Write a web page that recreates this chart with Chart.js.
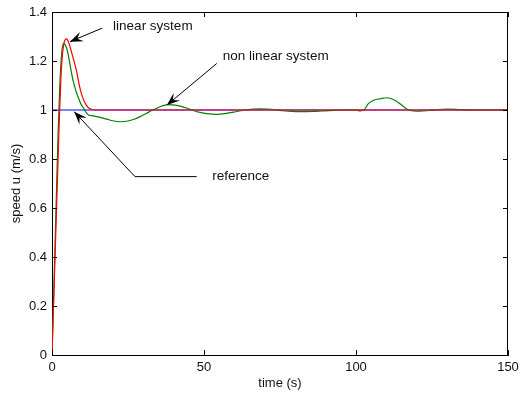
<!DOCTYPE html>
<html>
<head>
<meta charset="utf-8">
<script src="https://cdn.jsdelivr.net/npm/chart.js@4.4.1/dist/chart.umd.min.js"></script>
<style>
html,body{margin:0;padding:0;background:#fff;}
#wrap{width:520px;height:397px;}
</style>
</head>
<body>
<div id="wrap"><canvas id="c" width="520" height="397"></canvas></div>
<script>
// ---- data ----
const xTicks = [0, 50, 100, 150];
const yTicks = [0, 0.2, 0.4, 0.6, 0.8, 1, 1.2, 1.4];

const tRef = [0, 150];
const uRef = [1, 1];

const tLin = [0, 0.5, 1, 1.5, 2, 2.5, 3, 3.5, 4, 4.7, 5.3, 6, 7, 8, 9, 9.65, 10.5, 11.3, 12, 12.9, 14, 100, 101.3, 102.5, 150];
const uLin = [0, 0.2, 0.4, 0.6, 0.8, 0.99, 1.15, 1.235, 1.275, 1.29, 1.282, 1.255, 1.21, 1.163, 1.1, 1.068, 1.038, 1.02, 1.009, 1.003, 1.0, 1.0, 0.996, 1.0, 1.0];

const tNon = [0, 0.5, 1, 1.5, 2, 2.5, 3, 3.4, 3.9, 4.5, 5, 6, 6.9, 7.7, 8.55, 9.5, 10.5, 11.2, 12, 13.5, 15.8, 18, 20, 22.4, 25, 27, 29, 31, 33, 34.5, 36.5, 38.3, 40.5, 42.5, 44.3, 46.5, 48.7, 51, 54, 57, 59.6, 63, 66, 68.5, 71, 73, 76, 79, 82, 86, 89, 95.8, 101, 102.5, 104, 105.8, 108, 110.2, 112.3, 114, 115.5, 117.3, 119, 121, 124, 127, 130, 134, 138, 150];
const uNon = [0, 0.22, 0.45, 0.68, 0.9, 1.08, 1.2, 1.255, 1.272, 1.262, 1.245, 1.18, 1.122, 1.085, 1.054, 1.025, 1.005, 0.99, 0.98, 0.976, 0.97, 0.963, 0.956, 0.952, 0.955, 0.962, 0.973, 0.986, 0.999, 1.007, 1.018, 1.022, 1.02, 1.015, 1.008, 0.998, 0.99, 0.985, 0.982, 0.985, 0.991, 0.999, 1.004, 1.005, 1.004, 1.002, 0.997, 0.994, 0.993, 0.994, 0.996, 1.0, 1.0, 1.0, 1.025, 1.04, 1.046, 1.05, 1.043, 1.03, 1.015, 1.0, 0.996, 0.995, 0.998, 1.002, 1.004, 1.002, 1.0, 1.0];

const annotLabels = ["linear system", "non linear system", "reference"];
// annotation anchors in data units [t, u]
const labelPos = [[20.1, 1.343], [56.2, 1.2175], [52.7, 0.728]];
const arrowPaths = [
  [[16.5, 1.334], [5.9, 1.279]],
  [[54.2, 1.19], [37.8, 1.02]],
  [[47.6, 0.728], [27.3, 0.728], [7.3, 0.993]]
];

const zip = (t, u) => t.map((x, i) => ({x: x, y: u[i]}));

const FONT = "'Liberation Sans', Arial, Helvetica, sans-serif";
Chart.defaults.font.family = FONT;
Chart.defaults.font.size = 13;
Chart.defaults.color = '#111';

const framePlugin = {
  id: 'frame',
  afterDatasetsDraw(chart) {
    const {ctx, chartArea: a, scales: {x, y}} = chart;
    ctx.save();
    ctx.strokeStyle = '#000';
    ctx.lineWidth = 1;
    ctx.beginPath();
    ctx.moveTo(a.left, a.top + 0.5); ctx.lineTo(a.right, a.top + 0.5);
    ctx.moveTo(a.right - 0.5, a.top); ctx.lineTo(a.right - 0.5, a.bottom);
    const L = 5;
    xTicks.forEach(v => {
      const px = Math.round(x.getPixelForValue(v)) + 0.5;
      ctx.moveTo(px, a.bottom); ctx.lineTo(px, a.bottom - L);
      ctx.moveTo(px, a.top); ctx.lineTo(px, a.top + L);
    });
    yTicks.forEach(v => {
      const py = Math.round(y.getPixelForValue(v)) + 0.5;
      ctx.moveTo(a.left, py); ctx.lineTo(a.left + L, py);
      ctx.moveTo(a.right, py); ctx.lineTo(a.right - L, py);
    });
    ctx.stroke();

    // annotations
    ctx.font = '13.5px ' + FONT;
    ctx.fillStyle = '#111';
    ctx.textBaseline = 'middle';
    ctx.textAlign = 'left';
    annotLabels.forEach((s, i) => {
      ctx.fillText(s, x.getPixelForValue(labelPos[i][0]), y.getPixelForValue(labelPos[i][1]));
    });
    ctx.strokeStyle = '#000';
    ctx.fillStyle = '#000';
    arrowPaths.forEach(p => {
      const pts = p.map(q => [x.getPixelForValue(q[0]), y.getPixelForValue(q[1])]);
      ctx.beginPath();
      ctx.moveTo(pts[0][0], pts[0][1]);
      for (let i = 1; i < pts.length; i++) ctx.lineTo(pts[i][0], pts[i][1]);
      ctx.stroke();
      const [sx, sy] = pts[pts.length - 2];
      const [tx, ty] = pts[pts.length - 1];
      let dx = tx - sx, dy = ty - sy;
      const d = Math.hypot(dx, dy); dx /= d; dy /= d;
      const nx = -dy, ny = dx;
      const HL = 13, HW = 10;
      ctx.beginPath();
      ctx.moveTo(tx, ty);
      ctx.lineTo(tx - HL * dx + HW / 2 * nx, ty - HL * dy + HW / 2 * ny);
      ctx.lineTo(tx - 0.6 * HL * dx, ty - 0.6 * HL * dy);
      ctx.lineTo(tx - HL * dx - HW / 2 * nx, ty - HL * dy - HW / 2 * ny);
      ctx.closePath();
      ctx.fill();
    });
    ctx.restore();
  }
};

new Chart(document.getElementById('c'), {
  type: 'line',
  data: {
    datasets: [
      {label: 'linear system', data: zip(tLin, uLin), borderColor: '#ff0000', borderWidth: 1.2, pointRadius: 0, cubicInterpolationMode: 'monotone', fill: false},
      {label: 'non linear system', data: zip(tNon, uNon), borderColor: '#008000', borderWidth: 1.2, pointRadius: 0, cubicInterpolationMode: 'monotone', fill: false},
      {label: 'reference', data: zip(tRef, uRef), borderColor: '#0000ff', borderWidth: 1.2, pointRadius: 0, fill: false}
    ]
  },
  options: {
    responsive: false,
    animation: false,
    events: [],
    layout: {padding: {left: 0, right: 12, top: 12, bottom: 0}},
    plugins: {legend: {display: false}, tooltip: {enabled: false}},
    scales: {
      x: {
        type: 'linear', min: 0, max: 150,
        afterBuildTicks: s => { s.ticks = xTicks.map(v => ({value: v})); },
        afterFit: s => { s.height = 42; s.paddingLeft = 0; s.paddingRight = 0; },
        grid: {display: true, drawOnChartArea: false, drawTicks: false},
        border: {display: true, color: '#000', width: 1},
        ticks: {padding: 5, color: '#111', maxRotation: 0, autoSkip: false},
        title: {display: true, text: 'time (s)', color: '#111', padding: {top: 0, bottom: 6}}
      },
      y: {
        type: 'linear', min: 0, max: 1.4,
        afterBuildTicks: s => { s.ticks = yTicks.map(v => ({value: v})); },
        afterFit: s => { s.width = 52; s.paddingTop = 0; s.paddingBottom = 0; },
        grid: {display: true, drawOnChartArea: false, drawTicks: false},
        border: {display: true, color: '#000', width: 1},
        ticks: {padding: 5, color: '#111', autoSkip: false, callback: v => String(Math.round(v * 10) / 10)},
        title: {display: true, text: 'speed u (m/s)', color: '#111', padding: {top: 9, bottom: 0}}
      }
    }
  },
  plugins: [framePlugin]
});
</script>
</body>
</html>
